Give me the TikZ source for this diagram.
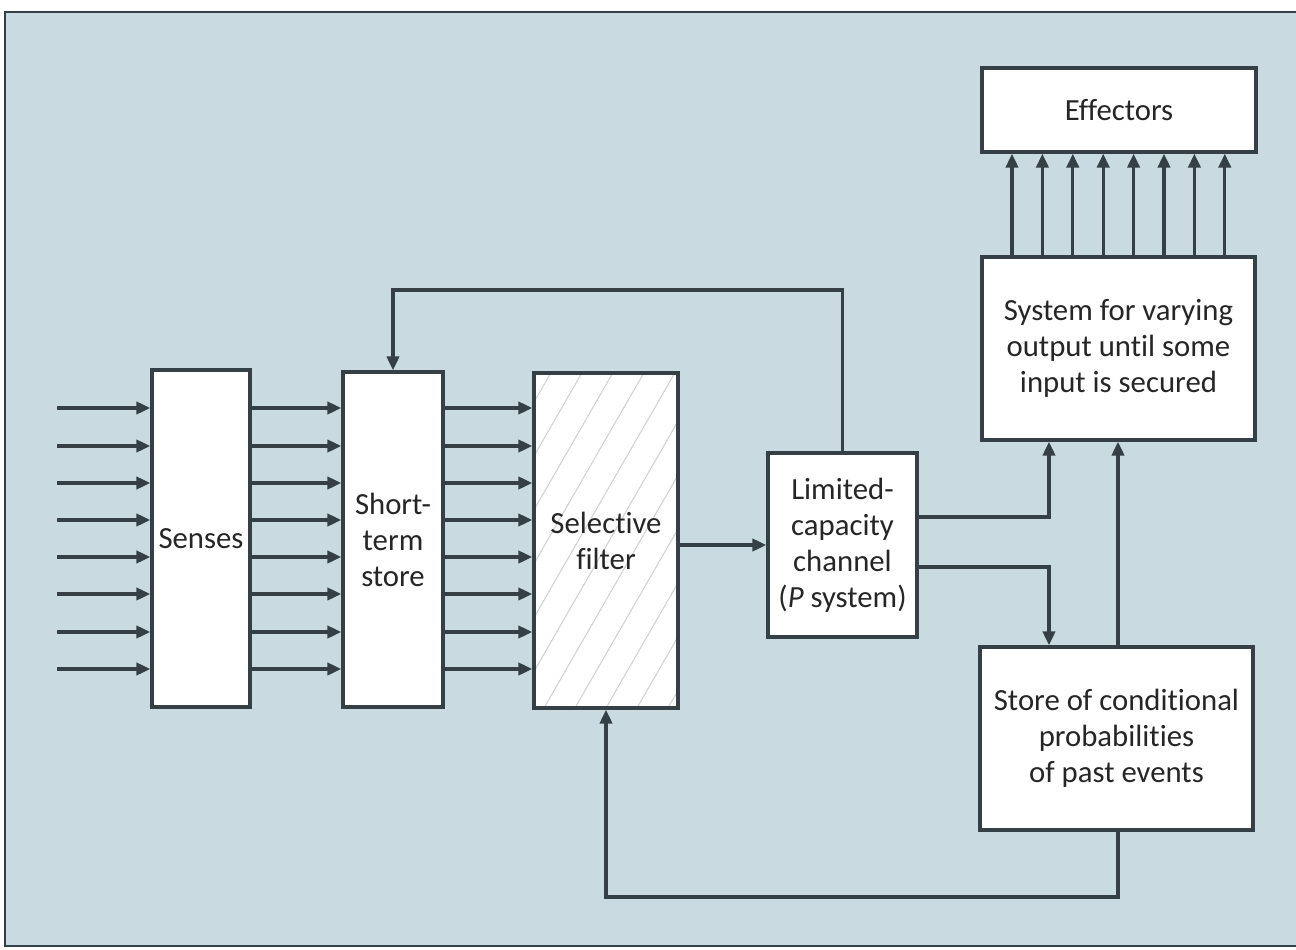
\documentclass[tikz,border=0pt]{standalone}
\usepackage{fontspec}
\setmainfont[RawFeature=-liga]{Carlito}
\usetikzlibrary{arrows.meta,calc}
\definecolor{bgc}{RGB}{201,219,225}
\definecolor{ink}{RGB}{52,64,70}
\definecolor{hatchc}{RGB}{205,210,212}
\tikzset{
  box/.style={draw=ink, line width=1.9pt, fill=white, align=center, inner sep=2pt,
    font=\fontsize{17.5}{20.5}\selectfont, text=black!85},
  arr/.style={draw=ink, line width=1.9pt, -{Triangle[length=8pt,width=7pt]}},
  hatched/.style={path picture={
    \foreach \k in {-10,...,10}
      \draw[hatchc, line width=0.6pt] ([xshift=\k*0.62cm]path picture bounding box.south) -- ++(4.2cm,7.3cm);}},
}
\begin{document}
\begin{tikzpicture}[x=0.02cm,y=-0.02cm]
\useasboundingbox (0,0) rectangle (1296,950);
\fill[white] (0,0) rectangle (1296,950);
\fill[bgc] (5,12) rectangle (1300,946);
\draw[ink, line width=1.2pt] (1300,12) -- (5,12) -- (5,946) -- (1300,946);

% nodes
\node[box, minimum width=1.96cm, minimum height=6.74cm] (senses) at (201,538.5) {Senses};
\node[box, minimum width=2.0cm, minimum height=6.7cm] (sts) at (393,539.5) {Short-\\term\\store};
\node[box, hatched, minimum width=2.88cm, minimum height=6.7cm] (sf) at (606,540.5) {Selective\\filter};
\node[box, minimum width=2.98cm, minimum height=3.68cm] (lcc) at (842.5,545) {Limited-\\capacity\\channel\\(\textit{P} system)};
\node[box, minimum width=5.48cm, minimum height=1.68cm] (eff) at (1119,110) {Effectors};
\node[box, minimum width=5.46cm, minimum height=3.66cm] (sys) at (1118.5,348.5) {System for varying\\output until some\\input is secured};
\node[box, minimum width=5.46cm, minimum height=3.66cm] (store) at (1116.5,738.5) {Store of conditional\\probabilities\\of past events};

% helper coordinates
\foreach \i/\y in {1/408,2/446,3/483,4/520,5/557,6/594,7/632,8/669}
  \coordinate (in\i) at (57,\y);
\coordinate (fbT) at (0,290);
\coordinate (o1) at (0,517);
\coordinate (o2) at (0,567);
\coordinate (c1) at (1049,0);
\coordinate (c2) at (1118,0);
\coordinate (bot) at (0,897);
\foreach \k in {0,...,7}
  \coordinate (e\k) at ({1012+30.4*\k},0);

% parallel arrows
\foreach \i in {1,...,8} {
  \draw[arr] (in\i) -- (senses.west |- in\i);
  \draw[arr] (senses.east |- in\i) -- (sts.west |- in\i);
  \draw[arr] (sts.east |- in\i) -- (sf.west |- in\i);
}
\draw[arr] (sf.east |- lcc.west) -- (lcc.west);
\draw[arr] (lcc.north) |- (sts.north |- fbT) -- (sts.north);
\draw[arr] (lcc.east |- o1) -| (sys.south -| c1);
\draw[arr] (lcc.east |- o2) -| (store.north -| c1);
\draw[arr] (store.north -| c2) -- (sys.south -| c2);
\draw[arr] (store.south -| c2) -- (c2 |- bot) -| (sf.south);
\foreach \k in {0,...,7}
  \draw[arr] (sys.north -| e\k) -- (eff.south -| e\k);
\end{tikzpicture}
\end{document}
